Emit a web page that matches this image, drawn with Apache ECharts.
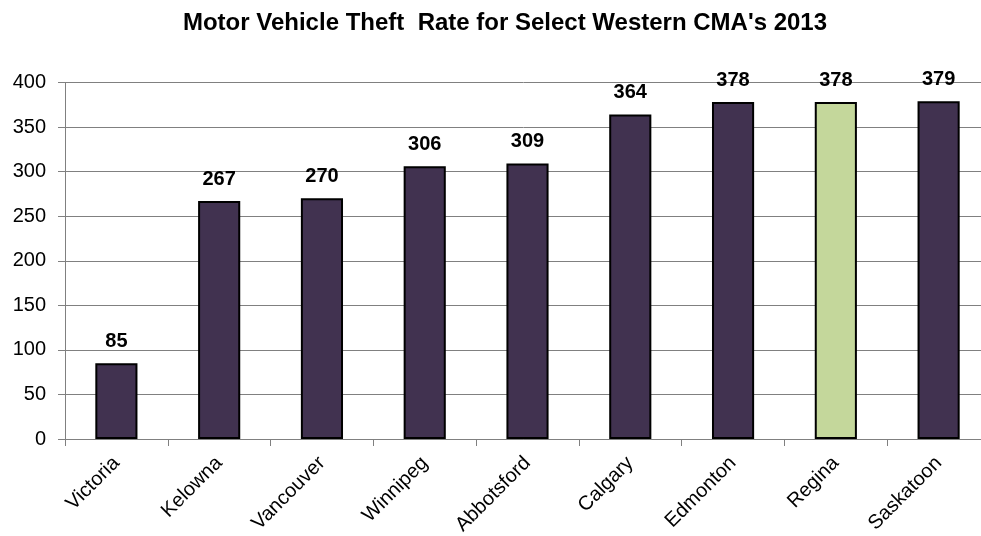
<!DOCTYPE html>
<html><head><meta charset="utf-8">
<script src="https://cdn.jsdelivr.net/npm/echarts@6/dist/echarts.min.js"></script>
<style>html,body{margin:0;padding:0;background:#fff}#c{width:981px;height:536px}</style>
</head><body><div id="c"></div>
<script>
const categories = ["Victoria","Kelowna","Vancouver","Winnipeg","Abbotsford","Calgary","Edmonton","Regina","Saskatoon"];
const values = [85,267,270,306,309,364,378,378,379];
const highlight = "Regina";
const yTicks = {min:0,max:400,interval:50};

const chart = echarts.init(document.getElementById('c'));
chart.setOption({
  animation:false,
  title:{text:"Motor Vehicle Theft  Rate for Select Western CMA's 2013",left:500,textAlign:'center',top:6,
    textStyle:{fontFamily:'Liberation Sans, Arial',fontWeight:'bold',fontSize:24,color:'#000'}},
  grid:{left:65,width:925,top:82.5,height:356.5,containLabel:false,outerBoundsMode:'none'},
  xAxis:{type:'category',data:categories,
    axisLine:{lineStyle:{color:'#808080',width:1}},
    axisTick:{show:true,length:7,lineStyle:{color:'#808080'}},
    axisLabel:{rotate:45,fontFamily:'Liberation Sans, Arial',fontSize:20,color:'#000',margin:21,interval:0}},
  yAxis:{type:'value',min:yTicks.min,max:yTicks.max,interval:yTicks.interval,
    axisLine:{show:true,lineStyle:{color:'#808080',width:1}},
    axisTick:{show:true,length:7,lineStyle:{color:'#808080'}},
    splitLine:{lineStyle:{color:'#808080',width:1}},
    axisLabel:{fontFamily:'Liberation Sans, Arial',fontSize:20,color:'#000',margin:19}},
  series:[{type:'bar',barWidth:'41%',
    data:values.map((v,i)=>({value:v,itemStyle:{color:categories[i]===highlight?'#C4D79B':'#413250'}})),
    itemStyle:{borderColor:'#000',borderWidth:2},
    label:{show:true,position:'top',distance:12,fontFamily:'Liberation Sans, Arial',fontWeight:'bold',fontSize:20,color:'#000'}
  }]
});
</script></body></html>
